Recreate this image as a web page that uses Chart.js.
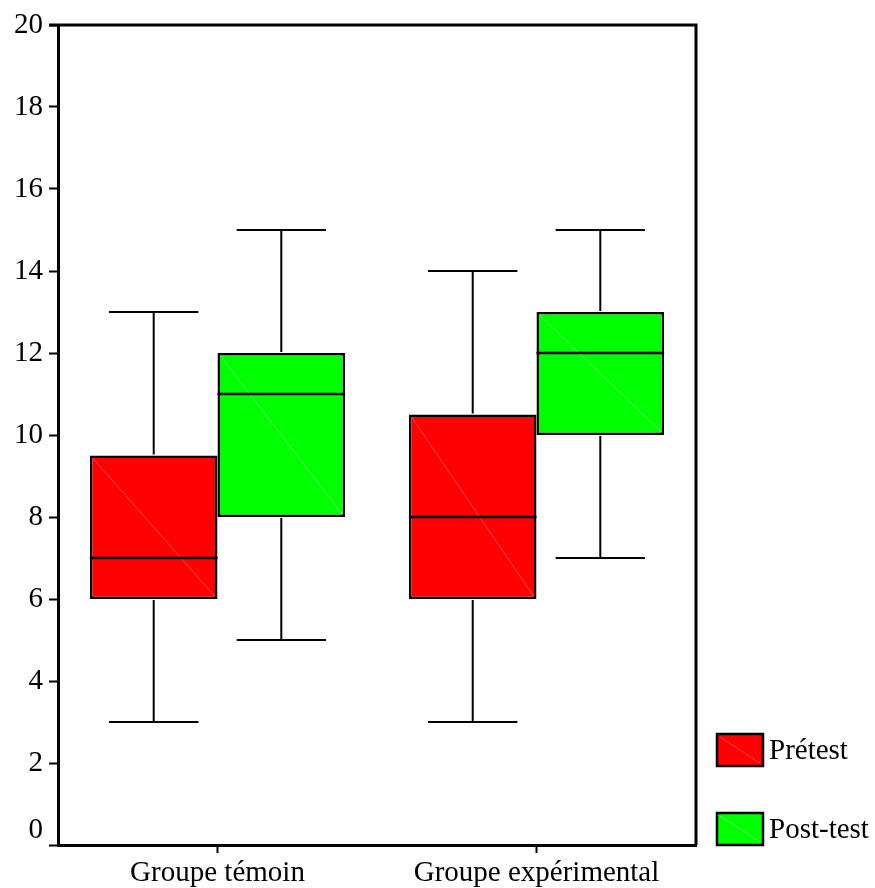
<!DOCTYPE html>
<html lang="fr">
<head>
    <meta charset="UTF-8">
    <title>Prétest / Post-test</title>
    <script src="https://cdn.jsdelivr.net/npm/chart.js"></script>
    <style>
        body { margin: 0; background: #fff; }
        #wrap { width: 875px; height: 888px; }
    </style>
</head>
<body>
    <div id="wrap"><canvas id="boxChart" width="875" height="888"></canvas></div>

    <script>
        // categories and series
        const groups = ['Groupe témoin', 'Groupe expérimental'];
        const seriesNames = ['Prétest', 'Post-test'];
        const seriesColors = ['#ff0000', '#00ff00'];
        const diagColors = ['#ff4a4a', '#5cff5c'];

        // five-number summaries per group: min, q1, median, q3, max
        const pretestMin = [3, 3];
        const pretestQ1 = [6, 6];
        const pretestMedian = [7, 8];
        const pretestQ3 = [9.5, 10.5];
        const pretestMax = [13, 14];

        const posttestMin = [5, 7];
        const posttestQ1 = [8, 10];
        const posttestMedian = [11, 12];
        const posttestQ3 = [12, 13];
        const posttestMax = [15, 15];

        const yTicks = [0, 2, 4, 6, 8, 10, 12, 14, 16, 18, 20];

        const stats = [
            { min: pretestMin, q1: pretestQ1, med: pretestMedian, q3: pretestQ3, max: pretestMax },
            { min: posttestMin, q1: posttestQ1, med: posttestMedian, q3: posttestQ3, max: posttestMax }
        ];

        const FONT = '"Liberation Serif", serif';

        // whiskers, medians, diagonal, frame and legend
        const boxPlugin = {
            id: 'boxExtras',
            afterDatasetsDraw(chart) {
                const ctx = chart.ctx;
                const y = chart.scales.y;
                const area = chart.chartArea;
                ctx.save();
                chart.data.datasets.forEach((ds, di) => {
                    const meta = chart.getDatasetMeta(di);
                    const s = stats[di];
                    meta.data.forEach((bar, i) => {
                        const left = bar.x - bar.width / 2;
                        const right = bar.x + bar.width / 2;
                        const top = y.getPixelForValue(s.q3[i]);
                        const bottom = y.getPixelForValue(s.q1[i]);
                        const capHalf = bar.width * 0.35;

                        // faint diagonal
                        ctx.strokeStyle = diagColors[di];
                        ctx.lineWidth = 1;
                        ctx.beginPath();
                        ctx.moveTo(left + 3, top + 3);
                        ctx.lineTo(right - 3, bottom - 3);
                        ctx.stroke();

                        ctx.strokeStyle = '#000';
                        ctx.lineWidth = 2.5;
                        ctx.beginPath();
                        // median
                        const m = y.getPixelForValue(s.med[i]);
                        ctx.moveTo(left, m);
                        ctx.lineTo(right, m);
                        ctx.stroke();

                        ctx.lineWidth = 2;
                        ctx.beginPath();
                        // upper whisker
                        const hi = y.getPixelForValue(s.max[i]);
                        ctx.moveTo(bar.x, top - 1);
                        ctx.lineTo(bar.x, hi);
                        ctx.moveTo(bar.x - capHalf, hi);
                        ctx.lineTo(bar.x + capHalf, hi);
                        // lower whisker
                        const lo = y.getPixelForValue(s.min[i]);
                        ctx.moveTo(bar.x, bottom + 1);
                        ctx.lineTo(bar.x, lo);
                        ctx.moveTo(bar.x - capHalf, lo);
                        ctx.lineTo(bar.x + capHalf, lo);
                        ctx.stroke();
                    });
                });

                // top and right frame
                ctx.strokeStyle = '#000';
                ctx.lineWidth = 3;
                ctx.beginPath();
                ctx.moveTo(area.left - 9, area.top);
                ctx.lineTo(area.right, area.top);
                ctx.lineTo(area.right, area.bottom);
                ctx.stroke();

                // legend
                ctx.font = '29px ' + FONT;
                ctx.textBaseline = 'middle';
                ctx.textAlign = 'left';
                const legendY = [750, 829];
                chart.data.datasets.forEach((ds, di) => {
                    const lx = 717, ly = legendY[di] - 16;
                    ctx.fillStyle = ds.backgroundColor;
                    ctx.fillRect(lx, ly, 46, 32);
                    ctx.strokeStyle = diagColors[di];
                    ctx.lineWidth = 1;
                    ctx.beginPath();
                    ctx.moveTo(lx + 3, ly + 3);
                    ctx.lineTo(lx + 43, ly + 29);
                    ctx.stroke();
                    ctx.strokeStyle = '#000';
                    ctx.lineWidth = 2.5;
                    ctx.strokeRect(lx, ly, 46, 32);
                    ctx.fillStyle = '#000';
                    ctx.fillText(ds.label, 769, legendY[di] + 1);
                });
                ctx.restore();
            }
        };

        const datasets = seriesNames.map((name, di) => ({
            label: name,
            data: groups.map((g, i) => [stats[di].q1[i], stats[di].q3[i]]),
            backgroundColor: seriesColors[di],
            borderColor: '#000',
            borderWidth: 2.5,
            borderSkipped: false,
            categoryPercentage: 0.8,
            barPercentage: 1.0
        }));

        new Chart(document.getElementById('boxChart').getContext('2d'), {
            type: 'bar',
            data: { labels: groups, datasets: datasets },
            plugins: [boxPlugin],
            options: {
                responsive: false,
                animation: false,
                layout: { padding: { left: 0, right: 179, top: 25, bottom: 0 } },
                plugins: {
                    legend: { display: false },
                    tooltip: { enabled: false }
                },
                scales: {
                    x: {
                        grid: {
                            offset: false,
                            drawOnChartArea: false,
                            drawTicks: true,
                            tickLength: 8,
                            tickWidth: 2,
                            color: '#000'
                        },
                        border: { display: true, color: '#000', width: 3 },
                        ticks: {
                            color: '#000',
                            padding: 3,
                            font: { family: FONT, size: 29 }
                        },
                        afterFit(scale) { scale.height = 43; }
                    },
                    y: {
                        min: 0,
                        max: 20,
                        afterBuildTicks(scale) { scale.ticks = yTicks.map(v => ({ value: v })); },
                        grid: {
                            drawOnChartArea: false,
                            drawTicks: true,
                            tickLength: 9,
                            tickWidth: 2,
                            color: '#000'
                        },
                        border: { display: true, color: '#000', width: 3 },
                        ticks: {
                            color: '#000',
                            padding: 6,
                            font: { family: FONT, size: 29, lineHeight: 1.0 },
                            // the "0" sits a little above its tick, as in the original
                            callback: (v) => v === 0 ? ['0', ''] : String(v)
                        },
                        afterFit(scale) { scale.width = 58; }
                    }
                }
            }
        });
    </script>
</body>
</html>
